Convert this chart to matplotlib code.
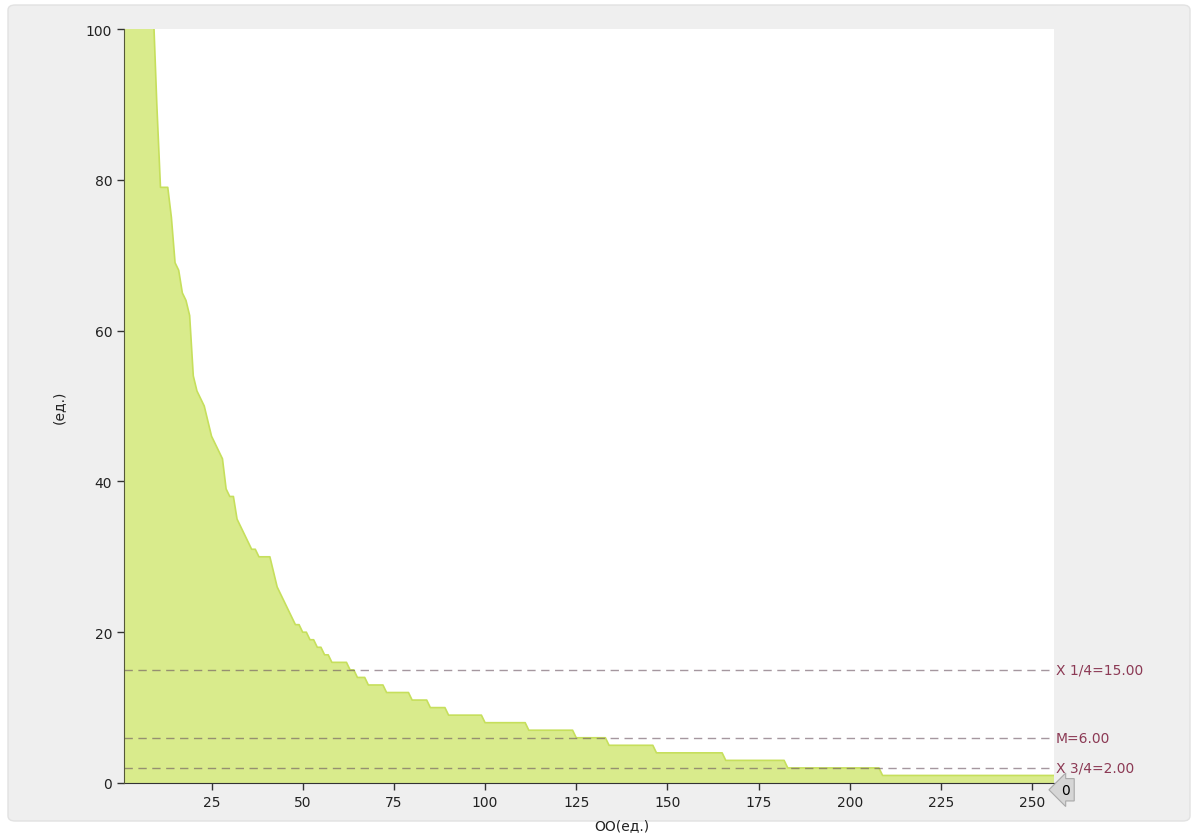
import numpy as np
import matplotlib
matplotlib.use("Agg")
import matplotlib.pyplot as plt
from matplotlib.patches import FancyBboxPatch

# values (sorted, largest first); first ones are clipped at 100
values = [180, 160, 150, 140, 130, 120, 112, 106, 103, 90,
          79, 79, 79, 75, 69, 68, 65, 64, 62, 54,
          52, 51, 50, 48, 46, 45, 44, 43, 39, 38,
          38, 35, 34, 33, 32, 31, 31, 30, 30, 30,
          30, 28, 26, 25, 24, 23, 22, 21, 21, 20,
          20, 19, 19, 18, 18, 17, 17, 16, 16, 16,
          16, 16, 15, 15, 14, 14, 14]
tail_levels = [13, 12, 11, 10, 9, 8, 7, 6, 5, 4, 3, 2, 1]
tail_counts = [5, 7, 5, 5, 10, 12, 13, 9, 13, 19, 17, 26, 48]

quart_vals = [15, 6, 2]
quart_labels = ['X 1/4=15.00', 'M=6.00', 'X 3/4=2.00']

y = np.concatenate([values, np.repeat(tail_levels, tail_counts)])
x = np.arange(1, len(y) + 1)

fs = 10

fig = plt.figure(figsize=(11.94, 8.37), dpi=100)
fig.patch.set_facecolor('white')
panel = FancyBboxPatch((8 / 1194, 15 / 837), 1182 / 1194, 816 / 837,
                       boxstyle='round,pad=0,rounding_size=0.006',
                       transform=fig.transFigure, fc='#efefef', ec='#e2e2e2',
                       lw=1, zorder=-5)
fig.patches.append(panel)

ax = fig.add_axes([124 / 1194, 53 / 837, 930 / 1194, 754 / 837])
ax.set_facecolor('white')

ax.fill_between(x, y, 0, color='#d9eb8c', lw=0, zorder=2)
ax.plot(x, y, color='#c6df5c', lw=1.2, zorder=3)

for v, lab in zip(quart_vals, quart_labels):
    ax.axhline(v, color='#6a5260', lw=1, dashes=(6, 4), alpha=0.6, zorder=4)
    ax.text(256.5, v, lab, color='#8c3a55', fontsize=fs, va='center', ha='left',
            clip_on=False)

ax.text(258, -0.9, '0', fontsize=fs, va='center', ha='left', clip_on=False,
        bbox=dict(boxstyle='larrow,pad=0.3', fc='#d6d6d6', ec='#a8a8a8', lw=0.8))

ax.set_xlim(1, 256)
ax.set_ylim(0, 100)
ax.set_xticks([25, 50, 75, 100, 125, 150, 175, 200, 225, 250])
ax.set_yticks([0, 20, 40, 60, 80, 100])
ax.tick_params(direction='out', length=5, width=1, color='#333333',
               labelsize=fs, labelcolor='#222222')

for s in ['top', 'right']:
    ax.spines[s].set_visible(False)
ax.spines['left'].set_color('#55583a')
ax.spines['bottom'].set_color('#333333')
ax.spines['left'].set_zorder(5)

ax.set_ylabel('(ед.)', fontsize=fs, color='#222222')
ax.yaxis.set_label_coords(-0.063, 0.5)
ax.set_xlabel('OO(ед.)', fontsize=fs, color='#222222')
ax.xaxis.set_label_coords(0.535, -0.046)

fig.savefig('out.png', dpi=100)
